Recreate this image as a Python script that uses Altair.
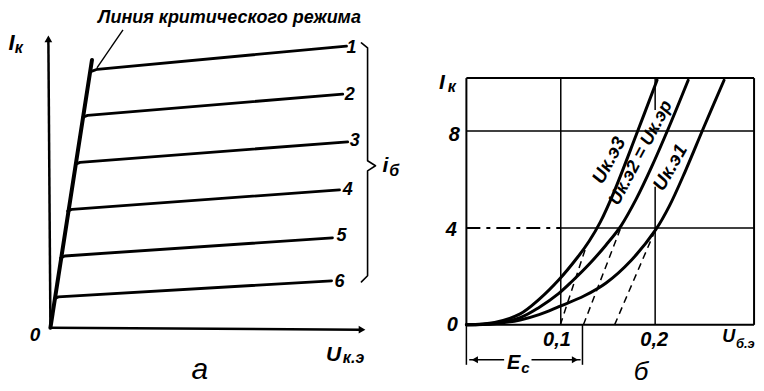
import altair as alt
import pandas as pd

FONT = "Liberation Sans Narrow, Liberation Sans, DejaVu Sans"

# ---------------- panel a (output characteristics) ----------------
a_crit_x = [0.0, 1.42]
a_crit_y = [0.0, 10.15]

a_ids = ["1", "2", "3", "4", "5", "6"]
a_x0 = [1.40, 1.11, 0.86, 0.59, 0.35, 0.14]
a_y0 = [9.72, 7.98, 6.20, 4.42, 2.64, 1.10]
a_xk = [1.60, 1.27, 1.01, 0.74, 0.49, 0.27]
a_yk = [9.80, 8.05, 6.27, 4.49, 2.72, 1.17]
a_x1 = [10.12, 9.99, 10.16, 9.88, 9.64, 9.61]
a_y1 = [10.68, 8.86, 7.05, 5.23, 3.41, 1.78]
a_lx = [10.29, 10.23, 10.40, 10.16, 9.95, 9.88]
a_ly = [10.60, 8.83, 7.08, 5.23, 3.48, 1.74]

a_brace_x = [10.63, 10.84, 10.84, 11.11, 10.84, 10.84, 10.63]
a_brace_y = [10.80, 10.61, 6.33, 6.14, 5.95, 1.97, 1.74]

# ---------------- panel b (input characteristics) ----------------
b_c3_x = [0.0, 0.030, 0.057, 0.077, 0.098, 0.118, 0.130, 0.142, 0.156, 0.180, 0.202]
b_c3_y = [0.0, 0.10, 0.45, 1.05, 1.86, 2.80, 3.45, 4.25, 5.45, 7.85, 10.10]
b_c2_x = [0.0, 0.030, 0.057, 0.077, 0.098, 0.112, 0.130, 0.148, 0.164, 0.180, 0.196, 0.215, 0.235]
b_c2_y = [0.0, 0.07, 0.30, 0.72, 1.30, 1.80, 2.50, 3.30, 4.10, 5.20, 6.50, 8.20, 10.10]
b_c1_x = [0.0, 0.030, 0.057, 0.077, 0.098, 0.125, 0.148, 0.175, 0.201, 0.215, 0.232, 0.252, 0.273]
b_c1_y = [0.0, 0.05, 0.20, 0.42, 0.75, 1.20, 1.73, 2.68, 3.95, 4.90, 6.35, 8.20, 10.10]

b_dash_x0 = [0.0995, 0.124, 0.157]
b_dash_y0 = [0.0, 0.0, 0.0]
b_dash_x1 = [0.127, 0.163, 0.200]
b_dash_y1 = [3.25, 3.95, 3.90]

b_top = 10.19
b_right = 0.3048

A_XDOM = [-1.45, 12.34]
A_YDOM = [-2.2, 12.0]
B_XDOM = [-0.0582, 0.3058]
B_YDOM = [-2.515, 12.95]


def X(dom, f="x"):
    return alt.X(f"{f}:Q", scale=alt.Scale(domain=dom, nice=False, zero=False), axis=None)


def Y(dom, f="y"):
    return alt.Y(f"{f}:Q", scale=alt.Scale(domain=dom, nice=False, zero=False), axis=None)


def lines(df, xd, yd, width, interp="linear"):
    return alt.Chart(df).mark_line(
        color="black", strokeWidth=width, strokeCap="round", strokeJoin="round", interpolate=interp
    ).encode(x=X(xd), y=Y(yd), detail="id:N", order="o:Q")


def rules(df, xd, yd, width, dash=None):
    kw = dict(color="black", strokeWidth=width)
    if dash:
        kw["strokeDash"] = dash
    return alt.Chart(df).mark_rule(**kw).encode(
        x=X(xd), y=Y(yd), x2=alt.X2("x2:Q"), y2=alt.Y2("y2:Q"))


def texts(df, xd, yd, baseline="middle", align="center", weight="bold"):
    return alt.Chart(df).mark_text(
        font=FONT, fontStyle="italic", fontWeight=weight, color="black",
        baseline=baseline, align=align
    ).encode(
        x=X(xd), y=Y(yd), text="t:N",
        size=alt.Size("fs:Q", scale=None, legend=None),
        angle=alt.Angle("ang:Q", scale=None),
    )


def arrows(df, xd, yd, shape, size):
    return alt.Chart(df).mark_point(shape=shape, filled=True, color="black", size=size, opacity=1).encode(
        x=X(xd), y=Y(yd))


# ---- build panel a ----
rows = []
for i, cid in enumerate(a_ids):
    rows += [
        {"id": cid, "o": 0, "x": a_x0[i], "y": a_y0[i]},
        {"id": cid, "o": 1, "x": a_xk[i], "y": a_yk[i]},
        {"id": cid, "o": 2, "x": a_x1[i], "y": a_y1[i]},
    ]
a_curves = pd.DataFrame(rows)
a_crit = pd.DataFrame({"id": "crit", "o": [0, 1], "x": a_crit_x, "y": a_crit_y})
a_brace = pd.DataFrame({"id": "brace", "o": list(range(len(a_brace_x))), "x": a_brace_x, "y": a_brace_y})
a_axes = pd.DataFrame({"x": [0.0, 0.0], "y": [0.0, 0.0], "x2": [-0.07, 10.6], "y2": [10.9, -0.076]})
a_leader = pd.DataFrame({"x": [2.48], "y": [11.29], "x2": [1.59], "y2": [9.85]})
a_arr_up = pd.DataFrame({"x": [-0.07], "y": [10.95]})
a_arr_right = pd.DataFrame({"x": [10.65], "y": [-0.076]})

a_txt = pd.DataFrame([
    {"t": "Линия критического режима", "x": 6.12, "y": 11.74, "fs": 18, "ang": 0},
    {"t": "I", "x": -1.33, "y": 10.80, "fs": 22, "ang": 0},
    {"t": "к", "x": -1.08, "y": 10.60, "fs": 16, "ang": 0},
    {"t": "0", "x": -0.53, "y": -0.27, "fs": 19, "ang": 0},
    {"t": "U", "x": 9.68, "y": -1.02, "fs": 21, "ang": 0},
    {"t": "к.э", "x": 10.36, "y": -1.16, "fs": 16, "ang": 0},
    {"t": "i", "x": 11.45, "y": 6.14, "fs": 21, "ang": 0},
    {"t": "б", "x": 11.75, "y": 5.94, "fs": 16, "ang": 0},
] + [
    {"t": cid, "x": a_lx[i], "y": a_ly[i], "fs": 18, "ang": 0} for i, cid in enumerate(a_ids)
])
a_letter = pd.DataFrame([{"t": "а", "x": 5.11, "y": -2.18, "fs": 30, "ang": 0}])

panel_a = alt.layer(
    rules(a_axes, A_XDOM, A_YDOM, 2.5),
    arrows(a_arr_up, A_XDOM, A_YDOM, "triangle-up", 60),
    arrows(a_arr_right, A_XDOM, A_YDOM, "triangle-right", 60),
    lines(a_crit, A_XDOM, A_YDOM, 4),
    lines(a_curves, A_XDOM, A_YDOM, 2.8),
    lines(a_brace, A_XDOM, A_YDOM, 1.6),
    rules(a_leader, A_XDOM, A_YDOM, 1.4),
    texts(a_txt, A_XDOM, A_YDOM),
    texts(a_letter, A_XDOM, A_YDOM, baseline="bottom", weight="normal"),
).properties(width=404, height=375)

# ---- build panel b ----
b_curves = pd.concat([
    pd.DataFrame({"id": "3", "o": range(len(b_c3_x)), "x": b_c3_x, "y": b_c3_y}),
    pd.DataFrame({"id": "2", "o": range(len(b_c2_x)), "x": b_c2_x, "y": b_c2_y}),
    pd.DataFrame({"id": "1", "o": range(len(b_c1_x)), "x": b_c1_x, "y": b_c1_y}),
])
b_dash = pd.DataFrame({"x": b_dash_x0, "y": b_dash_y0, "x2": b_dash_x1, "y2": b_dash_y1})

b_frame = pd.DataFrame({
    "x": [0.0, 0.0, b_right, 0.0],
    "y": [0.0, b_top, 0.0, 0.0],
    "x2": [0.0, b_right, b_right, b_right],
    "y2": [b_top, b_top, b_top, 0.0],
})
b_grid = pd.DataFrame({
    "x": [0.1, 0.2, 0.2, 0.0, 0.1],
    "y": [0.0, 0.0, 8.87, 8.0, 4.0],
    "x2": [0.1, 0.2, 0.2, b_right, b_right],
    "y2": [b_top, 5.7, b_top, 8.0, 4.0],
})
b_grid_dash = pd.DataFrame({"x": [0.0], "y": [4.0], "x2": [0.1], "y2": [4.0]})
b_ec = pd.DataFrame({
    "x": [0.0, 0.123, 0.003, 0.069],
    "y": [0.0, 0.0, -1.44, -1.44],
    "x2": [0.0, 0.123, 0.040, 0.121],
    "y2": [-1.65, -1.65, -1.44, -1.44],
})
b_arr_l = pd.DataFrame({"x": [0.009], "y": [-1.44]})
b_arr_r = pd.DataFrame({"x": [0.115], "y": [-1.44]})

b_txt = pd.DataFrame([
    {"t": "I", "x": -0.026, "y": 9.98, "fs": 21, "ang": 0},
    {"t": "к", "x": -0.0155, "y": 9.84, "fs": 16, "ang": 0},
    {"t": "8", "x": -0.0127, "y": 7.84, "fs": 20, "ang": 0},
    {"t": "4", "x": -0.016, "y": 3.92, "fs": 20, "ang": 0},
    {"t": "0", "x": -0.015, "y": 0.0, "fs": 20, "ang": 0},
    {"t": "0,1", "x": 0.096, "y": -0.62, "fs": 20, "ang": 0},
    {"t": "0,2", "x": 0.199, "y": -0.62, "fs": 20, "ang": 0},
    {"t": "U", "x": 0.278, "y": -0.52, "fs": 18, "ang": 0},
    {"t": "б.э", "x": 0.2955, "y": -0.80, "fs": 13, "ang": 0},
    {"t": "E", "x": 0.050, "y": -1.57, "fs": 20, "ang": 0},
    {"t": "с", "x": 0.0625, "y": -1.80, "fs": 15, "ang": 0},
    {"t": "Uк.э3", "x": 0.151, "y": 6.80, "fs": 19, "ang": 298},
    {"t": "Uк.э2 = Uк.эр", "x": 0.185, "y": 7.10, "fs": 18, "ang": 298},
    {"t": "Uк.э1", "x": 0.216, "y": 6.50, "fs": 19, "ang": 300},
])
b_letter = pd.DataFrame([{"t": "б", "x": 0.185, "y": -2.50, "fs": 26, "ang": 0}])

panel_b = alt.layer(
    rules(b_grid, B_XDOM, B_YDOM, 1.5),
    rules(b_grid_dash, B_XDOM, B_YDOM, 1.8, dash=[14, 6, 4, 6]),
    rules(b_frame, B_XDOM, B_YDOM, 2.0),
    rules(b_dash, B_XDOM, B_YDOM, 1.5, dash=[7, 5]),
    lines(b_curves, B_XDOM, B_YDOM, 3.0, interp="catmull-rom"),
    rules(b_ec, B_XDOM, B_YDOM, 1.5),
    arrows(b_arr_l, B_XDOM, B_YDOM, "triangle-left", 50),
    arrows(b_arr_r, B_XDOM, B_YDOM, "triangle-right", 50),
    texts(b_txt, B_XDOM, B_YDOM),
    texts(b_letter, B_XDOM, B_YDOM, baseline="bottom", weight="normal"),
).properties(width=344, height=375)

chart = alt.hconcat(panel_a, panel_b, spacing=0).properties(
    padding=0, background="white"
).configure_view(stroke=None)

chart.save("out.html", embed_options={"renderer": "svg", "actions": False})
